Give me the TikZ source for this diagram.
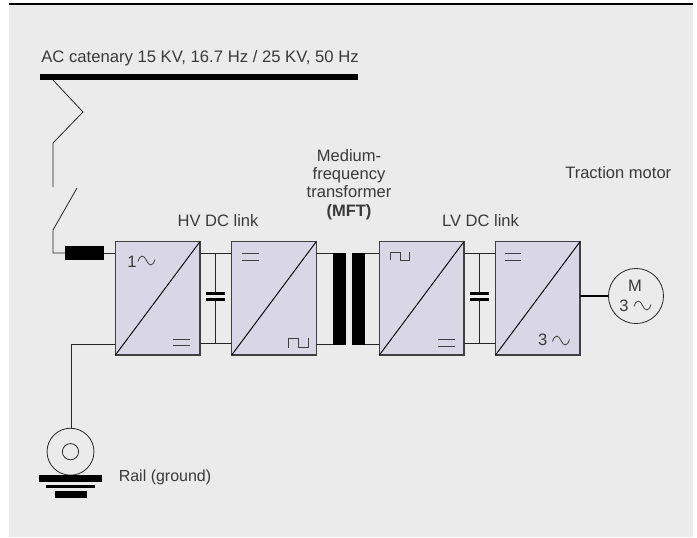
\documentclass[tikz,border=0pt]{standalone}
\usepackage{fontspec}
\setmainfont{Liberation Sans}
\definecolor{bgc}{HTML}{EBEBEB}
\definecolor{boxc}{HTML}{D9D6E6}
\definecolor{txtc}{HTML}{3A3A3A}
\definecolor{edgec}{HTML}{404040}
\newcommand{\sinewave}[2]{% centre x, centre y
  \draw[symline] (#1-8.5,#2+1) .. controls (#1-6.5,#2-6) and (#1-2.5,#2-6) .. (#1,#2)
    .. controls (#1+2.5,#2+6) and (#1+6.5,#2+6) .. (#1+8.5,#2-1);}
\newcommand{\eqsign}[3]{% left x, right x, centre y
  \draw[symline] (#1,#3-3.2) -- (#2,#3-3.2) (#1,#3+3.2) -- (#2,#3+3.2);}
\newcommand{\pulse}[3]{% left x, top y, bottom y
  \draw[symline] (#1,#3) -- (#1,#2) -- (#1+9.8,#2) -- (#1+9.8,#3) -- (#1+19.5,#3) -- (#1+19.5,#2);}
\tikzset{
  conv/.style={draw=edgec,line width=0.9pt,fill=boxc,minimum width=63.4pt,minimum height=85pt,inner sep=0pt,outer sep=0pt},
  solidbar/.style={fill=black,draw=none,inner sep=0pt,outer sep=0pt},
  wire/.style={black!85,line width=0.6pt},
  symline/.style={edgec,line width=0.6pt},
  lab/.style={text=txtc,font=\fontsize{12.4}{15}\selectfont,inner sep=0pt,align=center},
  symtext/.style={text=txtc,font=\fontsize{12.4}{15}\selectfont,inner sep=0pt},
}
\begin{document}
\begin{tikzpicture}[x=0.75pt,y=-0.75pt]
\useasboundingbox (0,0) rectangle (697,537);
\fill[bgc] (9,4) rectangle (693,537);
\draw[black,line width=1.1pt] (9,4) -- (693,4);

% catenary
\node[solidbar,minimum width=239pt,minimum height=4.8pt,anchor=north west] (cat) at (39.5,74) {};
\node[lab,anchor=base west,font=\fontsize{12.5}{15}\selectfont] (catlab) at (41,62.5) {AC catenary 15 KV, 16.7 Hz / 25 KV, 50 Hz};
\coordinate (catp) at (53,80);
\coordinate (z1) at (83,112);
\coordinate (z2) at (53,143);
\coordinate (z3) at (53,187);
\coordinate (sw1) at (77,188);
\coordinate (sw2) at (53,230);
\coordinate (sw3) at (53,253);

% converters
\node[conv] (b1) at (157.7,298.3) {};
\node[conv] (b2) at (274,298.3) {};
\node[conv] (b3) at (421.7,298.3) {};
\node[conv] (b4) at (537.8,298.3) {};
\foreach \b in {b1,b2,b3,b4}{\draw[wire,black,line width=0.7pt] (\b.south west) -- (\b.north east);}

% fuse
\node[solidbar,minimum width=29.2pt,minimum height=10.5pt] (fuse) at (84.5,253) {};
\draw[wire] (catp) -- (z1) -- (z2) -- (z3);
\draw[wire] (sw1) -- (sw2) -- (sw3) -- (fuse.west);
\draw[wire] (fuse.east) -- (b1.west |- fuse.east);

% DC links
\coordinate (top) at (0,253);
\coordinate (bot) at (0,343);
\draw[wire] (b1.east |- top) -- (b2.west |- top);
\draw[wire] (b1.east |- bot) -- (b2.west |- bot);
\draw[wire] (b3.east |- top) -- (b4.west |- top);
\draw[wire] (b3.east |- bot) -- (b4.west |- bot);
\coordinate (c1t) at (215.7,253); \coordinate (c1b) at (215.7,343);
\coordinate (c2t) at (479.7,253); \coordinate (c2b) at (479.7,343);
\foreach \c in {c1,c2}{
  \draw[wire] (\c t) -- (\c t |- 0,293.5);
  \draw[wire] (\c b) -- (\c b |- 0,300);
  \draw[black,line width=1.6pt] ([xshift=-7.2pt]\c t |- 0,293.5) -- ([xshift=7.2pt]\c t |- 0,293.5);
  \draw[black,line width=1.6pt] ([xshift=-7.2pt]\c t |- 0,299.5) -- ([xshift=7.2pt]\c t |- 0,299.5);
}

% transformer
\node[solidbar,minimum width=9.9pt,minimum height=69pt] (t1) at (339.3,299) {};
\node[solidbar,minimum width=9.9pt,minimum height=69pt] (t2) at (358.5,299) {};
\draw[wire] (b2.east |- top) -- (t1.west |- top);
\draw[wire] (b2.east |- 0,344) -- (t1.west |- 0,344);
\draw[wire] (t2.east |- top) -- (b3.west |- top);
\draw[wire] (t2.east |- 0,344) -- (b3.west |- 0,344);

% motor
\node[draw=black!85,line width=0.6pt,circle,minimum size=41.3pt,inner sep=0pt,outer sep=0pt] (mot) at (636,296) {};
\draw[black,line width=1.6pt] (b4.east |- mot.west) -- (mot.west);
\node[symtext] (mm) at (635,286) {M};
\node[symtext] (m3) at (624,305.5) {3};
\sinewave{642.5}{305.5}

% rail
\node[draw=black!85,line width=0.6pt,circle,minimum size=35.2pt,inner sep=0pt,outer sep=0pt] (wheel) at (70.5,451.7) {};
\node[draw=black!85,line width=0.6pt,circle,minimum size=12.2pt,inner sep=0pt,outer sep=0pt] (hub) at (70.5,451.7) {};
\coordinate (rk) at (71,344);
\draw[wire] (b1.west |- 0,344) -- (rk) -- (wheel.north -| rk);
\node[solidbar,minimum width=47pt,minimum height=4.6pt] (g1) at (70.7,478.5) {};
\node[solidbar,minimum width=37pt,minimum height=2.2pt] (g2) at (70.7,486.5) {};
\node[solidbar,minimum width=23.7pt,minimum height=4.6pt] (g3) at (70.7,494.5) {};
\node[lab,anchor=base west,font=\fontsize{12}{15}\selectfont] (raillab) at (118.5,481.5) {Rail (ground)};

% labels
\node[lab,anchor=base] (hv) at (218,226) {HV DC link};
\node[lab,anchor=base] (lv) at (480.5,226) {LV DC link};
\node[lab,anchor=base] (m1) at (349,161) {Medium-};
\node[lab,anchor=base] (m2) at (349,179) {frequency};
\node[lab,anchor=base] (m3t) at (349,197.7) {transformer};
\node[lab,anchor=base] (m4) at (349,216.7) {\textbf{(MFT)}};
\node[lab,anchor=base west] (tm) at (565,178) {Traction motor};

% converter symbols
\node[symtext] (s1) at (132,262) {1};
\sinewave{146.5}{260.5}
\eqsign{173.3}{190}{342.5}
\eqsign{242}{258.5}{257}
\pulse{288.4}{338.3}{347.7}
\pulse{390.2}{252}{260.3}
\eqsign{438.3}{455}{343}
\eqsign{505}{521}{257}
\node[symtext] (s3) at (542.7,340) {3};
\sinewave{561}{340.5}
\end{tikzpicture}
\end{document}
